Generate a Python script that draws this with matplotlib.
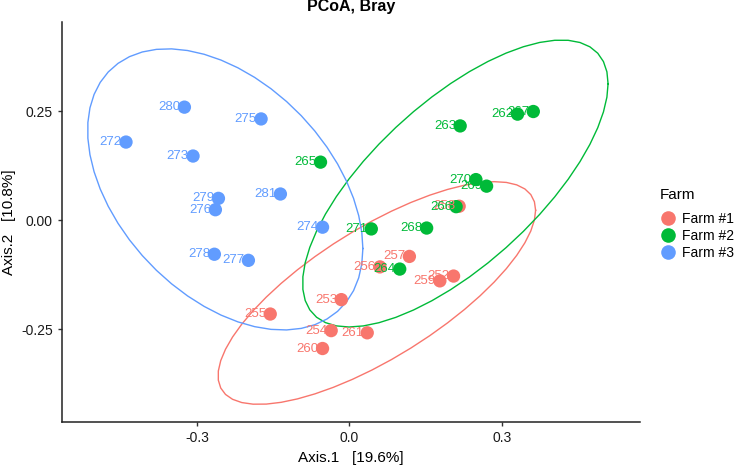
import matplotlib
matplotlib.use("Agg")
import matplotlib.pyplot as plt
from matplotlib.lines import Line2D
import numpy as np

plt.rcParams["font.family"] = ["Liberation Sans", "DejaVu Sans"]

farm_names = ["Farm #1", "Farm #2", "Farm #3"]
farm_colors = ["#F8766D", "#00BA38", "#619CFF"]

farm1_ids = ["252", "253", "254", "255", "256", "257", "258", "259", "260", "261"]
farm1_x = [0.205, -0.016, -0.036, -0.156, 0.060, 0.118, 0.216, 0.178, -0.053, 0.035]
farm1_y = [-0.128, -0.182, -0.253, -0.215, -0.107, -0.083, 0.032, -0.139, -0.294, -0.258]

farm2_ids = ["262", "263", "264", "265", "266", "267", "268", "269", "270", "271"]
farm2_x = [0.331, 0.218, 0.099, -0.057, 0.210, 0.362, 0.152, 0.270, 0.249, 0.043]
farm2_y = [0.243, 0.216, -0.112, 0.133, 0.031, 0.249, -0.018, 0.078, 0.093, -0.020]

farm3_ids = ["272", "273", "274", "275", "276", "277", "278", "279", "280", "281"]
farm3_x = [-0.440, -0.308, -0.053, -0.174, -0.264, -0.199, -0.266, -0.258, -0.325, -0.136]
farm3_y = [0.179, 0.147, -0.016, 0.232, 0.024, -0.092, -0.078, 0.050, 0.259, 0.060]

groups = [
    (farm1_ids, farm1_x, farm1_y),
    (farm2_ids, farm2_x, farm2_y),
    (farm3_ids, farm3_x, farm3_y),
]


def cov_trob(x, nu=5, maxit=25, tol=0.01):
    # multivariate t robust covariance (port of MASS::cov.trob)
    n, p = x.shape
    wt = np.ones(n)
    loc = x.mean(axis=0)
    w = np.sqrt(wt)
    for _ in range(maxit):
        w0 = w
        X = x - loc
        _, d, vt = np.linalg.svd(np.sqrt(w / w.sum())[:, None] * X, full_matrices=False)
        wX = X @ vt.T @ np.diag(1 / d)
        Q = (wX ** 2).sum(axis=1)
        w = (wt * (nu + p)) / (nu + Q)
        loc = (w[:, None] * x).sum(axis=0) / w.sum()
        if np.all(np.abs(w - w0) < tol):
            break
    X = x - loc
    cov = (np.sqrt(w)[:, None] * X).T @ (np.sqrt(w)[:, None] * X) / wt.sum()
    return loc, cov


def ellipse_path(xs, ys, qf95=4.256495):
    # same construction as ggplot2 stat_ellipse(type = "t", level = 0.95)
    pts = np.column_stack([xs, ys])
    center, shape = cov_trob(pts)
    chol = np.linalg.cholesky(shape).T
    radius = np.sqrt(2 * qf95)
    ang = np.linspace(0, 2 * np.pi, 52)
    circ = np.column_stack([np.cos(ang), np.sin(ang)])
    e = center + radius * circ @ chol
    return e[:, 0], e[:, 1]


fig = plt.figure(figsize=(7.4, 4.69), dpi=100)
ax = fig.add_axes([0.0838, 0.100, 0.781, 0.853])

for (ids, xs, ys), col in zip(groups, farm_colors):
    ex, ey = ellipse_path(xs, ys)
    ax.plot(ex, ey, color=col, lw=1.0, zorder=1)

for (ids, xs, ys), col in zip(groups, farm_colors):
    ax.scatter(xs, ys, s=92, color=col, edgecolors="none", zorder=3)

# labels go on top of all points, as geom_text after geom_point
for (ids, xs, ys), col in zip(groups, farm_colors):
    for lab, x, y in zip(ids, xs, ys):
        ax.annotate(lab, (x, y), xytext=(-3, 0), textcoords="offset points",
                    ha="right", va="center", fontsize=9.5, color=col, zorder=4)

ax.set_xlim(-0.566, 0.572)
ax.set_ylim(-0.4626, 0.454)
ax.set_xticks([-0.3, 0.0, 0.3])
ax.set_xticklabels(["-0.3", "0.0", "0.3"])
ax.set_yticks([-0.25, 0.0, 0.25])
ax.set_yticklabels(["-0.25", "0.00", "0.25"])
for s in ["top", "right"]:
    ax.spines[s].set_visible(False)
for s in ["left", "bottom"]:
    ax.spines[s].set_linewidth(1.1)
    ax.spines[s].set_color("#222222")
ax.tick_params(length=3, width=1, color="#333333", labelsize=10, labelcolor="#1a1a1a")
ax.set_xlabel("Axis.1   [19.6%]", fontsize=11, labelpad=4)
ax.set_ylabel("Axis.2   [10.8%]", fontsize=11, labelpad=4)
ax.set_title("PCoA, Bray", fontsize=11.5, fontweight="bold", pad=8)

handles = [Line2D([], [], marker="o", ls="none", ms=10.5, color=c, markeredgewidth=0)
           for c in farm_colors]
leg = fig.legend(handles, farm_names, title="Farm", loc="upper left",
                 bbox_to_anchor=(0.874, 0.625), frameon=False, fontsize=10,
                 title_fontsize=11, handletextpad=0.45, labelspacing=0.22,
                 handlelength=1.2)
leg._legend_box.align = "left"
leg._legend_box.sep = 7

fig.savefig("out.png", dpi=100)
